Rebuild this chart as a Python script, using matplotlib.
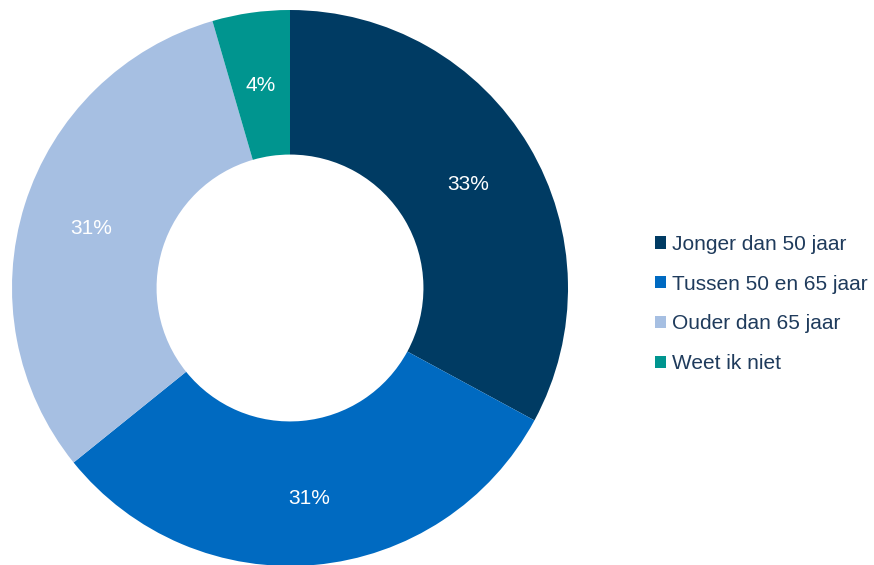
import matplotlib
matplotlib.use("Agg")
import matplotlib.pyplot as plt
from matplotlib.patches import Patch
import numpy as np

categories = ["Jonger dan 50 jaar", "Tussen 50 en 65 jaar", "Ouder dan 65 jaar", "Weet ik niet"]
values = [32.9, 31.3, 31.3, 4.5]
labels = ["33%", "31%", "31%", "4%"]
colors = ["#003B63", "#006AC1", "#A6BFE2", "#00958F"]

plt.rcParams['font.family'] = ['Liberation Sans', 'DejaVu Sans']

W, H = 874, 565
fig = plt.figure(figsize=(W / 100, H / 100), dpi=100)
cx, cy, R = 290, 288, 278
ax = fig.add_axes([(cx - R) / W, (H - cy - R) / H, 2 * R / W, 2 * R / H])

inner = 0.48
wedges, _ = ax.pie(values, colors=colors, startangle=90, counterclock=False, radius=1,
                   wedgeprops=dict(width=1 - inner, edgecolor='none'))
ax.set_xlim(-1, 1)
ax.set_ylim(-1, 1)
ax.axis('off')

total = sum(values)
cum = 0
lr = 0.748
for v, lab in zip(values, labels):
    mid = 90 - (cum + v / 2) / total * 360
    cum += v
    ax.text(lr * np.cos(np.radians(mid)), lr * np.sin(np.radians(mid)) - 0.012, lab,
            ha='center', va='center', color='white', fontsize=15)

handles = [Patch(facecolor=c, edgecolor='none') for c in colors]
leg = fig.legend(handles, categories, loc='center left', bbox_to_anchor=(655 / W, 1 - 304 / H),
                 frameon=False, fontsize=15, handlelength=0.55, handleheight=0.55,
                 handletextpad=0.25, labelspacing=1.0, borderpad=0, borderaxespad=0)
for t in leg.get_texts():
    t.set_color('#1F3B5C')

fig.savefig('out.png', dpi=100)
